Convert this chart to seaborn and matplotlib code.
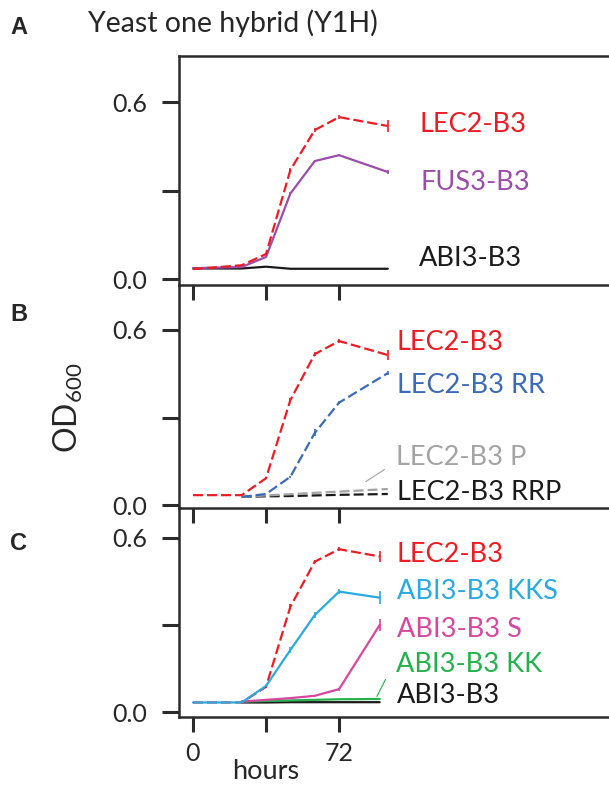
import matplotlib.pyplot as plt
import seaborn as sns
import pandas as pd
import numpy as np

# time points (hours)
hours = [0, 24, 36, 48, 60, 72, 96]
hours_late = [24, 36, 48, 60, 72, 96]
hours_c = [0, 24, 36, 48, 60, 72, 92]
hours_c_late = [24, 36, 48, 60, 72, 92]

# panel A - Y1H
a_lec2 = [0.034, 0.047, 0.085, 0.37, 0.505, 0.549, 0.519]
a_fus3 = [0.037, 0.041, 0.075, 0.29, 0.40, 0.42, 0.363]
a_abi3 = [0.036, 0.036, 0.042, 0.035, 0.035, 0.035, 0.035]
a_lec2_err = [0, 0, 0.004, 0.006, 0.006, 0.006, 0.02]
a_fus3_err = [0, 0, 0, 0.004, 0.004, 0.004, 0.007]

# panel B
b_lec2 = [0.034, 0.034, 0.092, 0.36, 0.517, 0.562, 0.514]
b_rr = [0.028, 0.038, 0.097, 0.247, 0.351, 0.452]
b_p = [0.028, 0.033, 0.037, 0.042, 0.046, 0.055]
b_rrp = [0.028, 0.030, 0.031, 0.033, 0.035, 0.038]
b_lec2_err = [0, 0, 0.004, 0.006, 0.006, 0.006, 0.017]
b_rr_err = [0, 0, 0.004, 0.012, 0.006, 0.008]

# panel C
c_lec2 = [0.033, 0.033, 0.087, 0.363, 0.518, 0.561, 0.536]
c_kks = [0.033, 0.033, 0.09, 0.214, 0.334, 0.415, 0.394]
c_s = [0.033, 0.036, 0.042, 0.048, 0.056, 0.079, 0.30]
c_kk = [0.033, 0.036, 0.038, 0.040, 0.042, 0.044, 0.045]
c_abi3 = [0.033, 0.033, 0.033, 0.034, 0.034, 0.034, 0.034]
c_lec2_err = [0, 0, 0.004, 0.008, 0.006, 0.006, 0.02]
c_kks_err = [0, 0, 0.004, 0.01, 0.01, 0.01, 0.022]
c_s_err = [0, 0, 0, 0, 0, 0.005, 0.02]

red = "#ED1C24"
purple = "#9A4DAA"
blue = "#3B6BB6"
grey = "#A3A3A3"
cyan = "#2AAAE2"
magenta = "#D6489E"
green = "#22B14C"
black = "#1A1A1A"
dash = (4.5, 1.8)

# (label, hours, values, errors, colour, dashed, label x, label baseline y)
panel_a = [
    ("ABI3-B3", hours, a_abi3, None, black, False, 111.5, 0.044),
    ("FUS3-B3", hours, a_fus3, a_fus3_err, purple, False, 112, 0.302),
    ("LEC2-B3", hours, a_lec2, a_lec2_err, red, True, 111.5, 0.498),
]
panel_b = [
    ("LEC2-B3 RRP", hours_late, b_rrp, None, black, True, 100.5, 0.017),
    ("LEC2-B3 P", hours_late, b_p, None, grey, True, 99.8, 0.137),
    ("LEC2-B3 RR", hours_late, b_rr, b_rr_err, blue, True, 100.5, 0.384),
    ("LEC2-B3", hours, b_lec2, b_lec2_err, red, True, 100.5, 0.531),
]
panel_c = [
    ("ABI3-B3", hours_c_late, c_abi3[1:], None, black, False, 100.5, 0.031),
    ("ABI3-B3 KK", hours_c_late, c_kk[1:], None, green, False, 100, 0.138),
    ("ABI3-B3 S", hours_c_late, c_s[1:], c_s_err[1:], magenta, False, 100.5, 0.259),
    ("LEC2-B3", hours_c, c_lec2, c_lec2_err, red, True, 100.5, 0.517),
    ("ABI3-B3 KKS", hours_c, c_kks, c_kks_err, cyan, False, 100.5, 0.390),
]

sns.set_style("ticks")
plt.rcParams['font.family'] = ['Lato', 'DejaVu Sans']
plt.rcParams['mathtext.default'] = 'regular'

fig = plt.figure(figsize=(6.09, 7.86), dpi=100)
ax_a = fig.add_axes([0.2939, 0.6374, 0.7061, 0.2913])
ax_b = fig.add_axes([0.2939, 0.3537, 0.7061, 0.2837])
ax_c = fig.add_axes([0.2939, 0.0878, 0.7061, 0.2659])

spine_col = "#2b2b2b"


def draw_panel(ax, series, ylim):
    ax.set_facecolor("none")
    rows = []
    for name, hx, vals, err, col, dashed, lx, ly in series:
        for h, v in zip(hx, vals):
            rows.append({"hours": h, "od": v, "construct": name})
    df = pd.DataFrame(rows)
    pal = {s[0]: s[4] for s in series}
    dashes = {s[0]: (dash if s[5] else "") for s in series}
    sns.lineplot(data=df, x="hours", y="od", hue="construct", style="construct",
                 hue_order=[s[0] for s in series], palette=pal, dashes=dashes,
                 linewidth=1.6, sort=False, legend=False, ax=ax)
    for name, hx, vals, err, col, dashed, lx, ly in series:
        if err is not None:
            ax.errorbar(hx, vals, yerr=err, fmt="none", ecolor=col,
                        elinewidth=1.2, capsize=0)
        ax.text(lx, ly, name, color=col, fontsize=19.5, va="baseline", ha="left")
    ax.set_xlim(-6.9, 205)
    ax.set_ylim(*ylim)
    ax.set_yticks([0.0, 0.3, 0.6])
    ax.set_yticklabels(["0.0", "", "0.6"])
    ax.set_xticks([0, 36, 72])
    ax.set_xlabel("")
    ax.set_ylabel("")
    ax.tick_params(axis="y", direction="out", length=12, width=2.2,
                   color=spine_col, labelsize=18, pad=11)
    ax.tick_params(axis="x", direction="out", length=11, width=2.2,
                   color=spine_col, labelsize=18, pad=7)
    ax.spines["right"].set_visible(False)
    for s in ["left", "bottom", "top"]:
        ax.spines[s].set_linewidth(1.8)
        ax.spines[s].set_color(spine_col)


draw_panel(ax_a, panel_a, (-0.020, 0.756))
draw_panel(ax_b, panel_b, (-0.010, 0.754))
draw_panel(ax_c, panel_c, (-0.017, 0.703))

ax_b.spines["top"].set_visible(False)
ax_c.spines["top"].set_visible(False)
ax_a.set_xticklabels([])
ax_b.set_xticklabels([])
ax_c.set_xticklabels(["0", "", "72"])

# leader lines to labels
ax_b.annotate("", xy=(84, 0.075), xytext=(95.5, 0.127),
              arrowprops=dict(arrowstyle="-", color=grey, lw=0.8))
ax_c.annotate("", xy=(90, 0.045), xytext=(95.5, 0.121),
              arrowprops=dict(arrowstyle="-", color=green, lw=0.8))

ax_c.set_xlabel("hours", fontsize=19.5)
ax_c.xaxis.set_label_coords(0.202, -0.20)

fig.text(68 / 609, 1 - 408 / 786, "OD$_{600}$", rotation=90, fontsize=23,
         ha="center", va="center")
fig.text(88 / 609, 1 - 32 / 786, "Yeast one hybrid (Y1H)", fontsize=20.5,
         va="baseline", ha="left")
for letter, y in [("A", 27), ("B", 315), ("C", 544)]:
    fig.text(10 / 609, 1 - y / 786, letter, fontsize=17, fontweight="bold",
             va="center", ha="left", family=["Liberation Sans", "DejaVu Sans"])

fig.savefig("out.png", dpi=100)
